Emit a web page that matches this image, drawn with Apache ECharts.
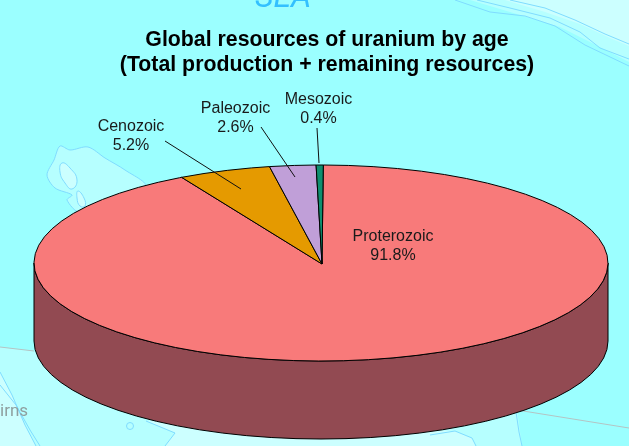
<!DOCTYPE html>
<html>
<head>
<meta charset="utf-8">
<style>
html, body { margin: 0; padding: 0; background: #9bffff; }
#main { width: 629px; height: 446px; }
</style>
<script src="https://cdn.jsdelivr.net/npm/echarts@6/dist/echarts.min.js"></script>
</head>
<body>
<div id="main"></div>
<script>
var chart = echarts.init(document.getElementById('main'), null, { renderer: 'canvas' });

var ages = ['Proterozoic', 'Cenozoic', 'Paleozoic', 'Mesozoic'];
var shares = [91.8, 5.2, 2.6, 0.4];

var topColors = ['#f87a7a', '#e59a00', '#c09fd8', '#0f8f6f'];
var sideColors = ['#924a52', '#8c5e00', '#75618a', '#095744'];

// pie geometry, the slant of the old 3D chart
var cx = 321, cy = 263, rx = 287, ry = 98, depth = 78;
var startOffset = 0.008; // first slice starts just past 12 o'clock

// label centre, then leader line start and end (Proterozoic has no leader)
var labelSpots = [
    { x: 393, y: 246.5 },
    { x: 131, y: 136.5, line: [[165, 141], [241, 189]] },
    { x: 235.5, y: 118.5, line: [[261, 127], [295, 177]] },
    { x: 318.5, y: 109, line: [[317, 128], [319, 163]] }
];

function edgePoint(angle, down) {
    // angle is clockwise from 12 o'clock
    return [cx + rx * Math.sin(angle), cy - ry * Math.cos(angle) + (down || 0)];
}

function arcPoints(from, to, down) {
    var pts = [];
    var step = Math.PI / 36; // the reference ellipse is visibly faceted
    var a = from;
    while (a < to) {
        pts.push(edgePoint(a, down));
        a += step;
    }
    pts.push(edgePoint(to, down));
    return pts;
}

function lineStyle(color) {
    return { fill: color, stroke: '#000', lineWidth: 1 };
}

function renderSlice(params, api) {
    var i = params.dataIndex;
    var before = 0;
    for (var k = 0; k < i; k++) before += shares[k];
    var total = shares.reduce(function (a, b) { return a + b; }, 0);
    var start = startOffset + before / total * 2 * Math.PI;
    var end = startOffset + (before + api.value(1)) / total * 2 * Math.PI;
    var children = [];

    // wall, only the front half can be seen
    var wallFrom = Math.max(start, Math.PI / 2);
    var wallTo = Math.min(end, Math.PI * 1.5);
    if (wallFrom < wallTo) {
        var upper = arcPoints(wallFrom, wallTo, 0);
        var lower = arcPoints(wallFrom, wallTo, depth).reverse();
        children.push({
            type: 'polygon',
            shape: { points: upper.concat(lower) },
            style: lineStyle(sideColors[i])
        });
    }

    children.push({
        type: 'polygon',
        shape: { points: [[cx + 1, cy + 1]].concat(arcPoints(start, end, 0)) },
        style: lineStyle(topColors[i])
    });
    return { type: 'group', children: children };
}

function renderLabel(params, api) {
    var i = params.dataIndex;
    var spot = labelSpots[i];
    var children = [{
        type: 'text',
        style: {
            x: spot.x,
            y: spot.y,
            text: ages[i] + '\n' + api.value(1).toFixed(1) + '%',
            align: 'center',
            verticalAlign: 'middle',
            fontFamily: 'Liberation Sans',
            fontSize: 16,
            lineHeight: 19,
            fill: '#1a1a1a'
        }
    }];
    if (spot.line) {
        children.push({
            type: 'polyline',
            shape: { points: spot.line },
            style: { stroke: '#111', lineWidth: 1, fill: null }
        });
    }
    return { type: 'group', children: children };
}

var rows = shares.map(function (v, i) { return [i, v]; });

// backdrop, the map the chart was pasted on
var coast = '#7fdcff';
var backdrop = [
    { type: 'polygon', shape: { points: [[470, 0], [520, 15], [560, 27], [590, 42], [629, 62], [629, 0]] }, style: { fill: '#b6ffff' } },
    { type: 'polygon', shape: { points: [[505, 0], [545, 12], [580, 24], [610, 38], [629, 46], [629, 0]] }, style: { fill: '#ccffff' } },
    { type: 'polyline', shape: { points: [[455, 0], [490, 12], [525, 16], [555, 26], [585, 45], [629, 66]] }, style: { stroke: coast, fill: null, lineWidth: 1 } },
    { type: 'polyline', shape: { points: [[477, 0], [510, 8], [550, 18], [580, 32], [600, 48], [629, 59]] }, style: { stroke: coast, fill: null, lineWidth: 1 } },
    { type: 'polyline', shape: { points: [[510, 0], [545, 8], [575, 20], [605, 34], [629, 44]] }, style: { stroke: coast, fill: null, lineWidth: 1 } },
    { type: 'polygon', shape: { points: [[60, 146], [70, 150], [88, 147], [105, 158], [125, 170], [145, 186], [80, 212], [67, 200], [72, 195], [55, 188], [47, 175], [54, 160]], smooth: 0.3 }, style: { fill: '#b6ffff', stroke: coast, lineWidth: 1 } },
    { type: 'polygon', shape: { points: [[62, 163], [70, 168], [77, 180], [72, 189], [65, 183], [60, 172]], smooth: 0.5 }, style: { fill: '#ccffff', stroke: coast, lineWidth: 1 } },
    { type: 'polygon', shape: { points: [[78, 191], [84, 198], [85, 206], [80, 206], [77, 198]], smooth: 0.5 }, style: { fill: '#ccffff', stroke: coast, lineWidth: 1 } },
    { type: 'polygon', shape: { points: [[0, 347], [34, 351], [100, 400], [330, 430], [517, 410], [522, 446], [0, 446]] }, style: { fill: '#b6ffff' } },
    { type: 'polygon', shape: { points: [[0, 372], [12, 395], [25, 425], [36, 446], [0, 446]] }, style: { fill: '#ccffff' } },
    { type: 'polygon', shape: { points: [[146, 421], [175, 433], [165, 446], [476, 446], [472, 438], [455, 431], [430, 430]] }, style: { fill: '#ccffff' } },
    { type: 'polyline', shape: { points: [[0, 372], [12, 395], [25, 425], [36, 446]] }, style: { stroke: coast, fill: null, lineWidth: 1 } },
    { type: 'polyline', shape: { points: [[0, 385], [16, 405], [30, 430], [40, 446]] }, style: { stroke: coast, fill: null, lineWidth: 1 } },
    { type: 'polyline', shape: { points: [[146, 421], [175, 433], [165, 446]] }, style: { stroke: coast, fill: null, lineWidth: 1 } },
    { type: 'polyline', shape: { points: [[430, 435], [455, 431], [472, 438], [476, 446]] }, style: { stroke: coast, fill: null, lineWidth: 1 } },
    { type: 'polyline', shape: { points: [[516, 412], [519, 432], [522, 446]] }, style: { stroke: coast, fill: null, lineWidth: 1 } },
    { type: 'polyline', shape: { points: [[0, 347], [34, 351]] }, style: { stroke: '#b4c4c4', fill: null, lineWidth: 1 } },
    { type: 'polyline', shape: { points: [[517, 410], [629, 428]] }, style: { stroke: '#b4c4c4', fill: null, lineWidth: 1 } },
    { type: 'circle', shape: { cx: 130, cy: 426, r: 3.5 }, style: { fill: 'none', stroke: coast, lineWidth: 1 } },
    { type: 'text', style: { x: 0, y: 403, text: 'irns', fontFamily: 'Roboto', fontSize: 17, fill: '#8f9f9f' } },
    { type: 'text', style: { x: 255, y: -17, text: 'SEA', fontFamily: 'Roboto', fontStyle: 'italic', fontSize: 32, fill: '#33c0ff' } }
];

chart.setOption({
    backgroundColor: '#9bffff',
    animation: false,
    title: {
        text: 'Global resources of uranium by age\n(Total production + remaining resources)',
        left: 322,
        top: 23,
        textAlign: 'center',
        textStyle: {
            fontFamily: 'Liberation Sans',
            fontSize: 21.3,
            fontWeight: 'bold',
            lineHeight: 24.5,
            color: '#000'
        }
    },
    graphic: backdrop,
    series: [
        { type: 'custom', coordinateSystem: 'none', silent: true, z: 2, data: rows, renderItem: renderSlice },
        { type: 'custom', coordinateSystem: 'none', silent: true, z: 3, data: rows, renderItem: renderLabel }
    ]
});
</script>
</body>
</html>
